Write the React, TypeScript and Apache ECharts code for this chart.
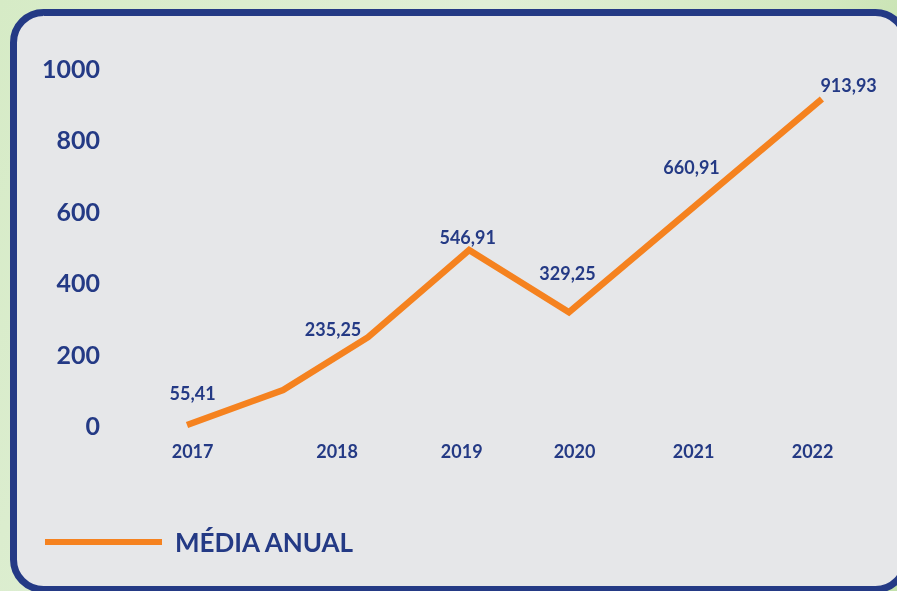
import React, { useEffect, useRef } from "react";
import * as echarts from "echarts";

// Year tick labels and their positions along the x axis (in year units, 2017 = 0)
const years = ["2017", "2018", "2019", "2020", "2021", "2022"];
const yearPos = [0, 1.165, 2.17, 3.08, 4.04, 5.0];

// Annotated yearly averages
const labelValues = [55.41, 235.25, 546.91, 329.25, 660.91, 913.93];
const labelOffsets = [
  [0, -12],
  [-4, -12],
  [6, 7],
  [-7, -34],
  [-2, -22],
  [36, -14],
];

// Line vertices as drawn in the picture
const lineX = [-0.045, 0.73, 1.415, 2.23, 3.035, 5.075];
const lineY = [0, 98, 246, 490, 316, 913];

const NAVY = "#243a85";
const ORANGE = "#f5821f";
const FONT = "Lato, 'Open Sans', sans-serif";

export default function App() {
  const ref = useRef<HTMLDivElement>(null);

  useEffect(() => {
    if (!ref.current) return;
    const chart = echarts.init(ref.current, null, { renderer: "svg" });
    const fmt = (v: number) => v.toFixed(2).replace(".", ",");
    chart.setOption({
      animation: false,
      graphic: [
        {
          type: "rect",
          z: -20,
          silent: true,
          shape: { x: 0, y: 0, width: 897, height: 591 },
          style: {
            fill: new echarts.graphic.LinearGradient(0, 0, 1, 0.3, [
              { offset: 0, color: "#d6ebc6" },
              { offset: 0.5, color: "#e0efd6" },
              { offset: 0.85, color: "#d2e8bf" },
              { offset: 1, color: "#c3e1ac" },
            ]),
          },
        },
        {
          type: "rect",
          z: -10,
          silent: true,
          shape: { x: 13.5, y: 12.5, width: 892, height: 577, r: 30 },
          style: { fill: "#e6e7e9", stroke: NAVY, lineWidth: 7 },
        },
      ],
      grid: { left: 112, right: 10, top: 68, bottom: 166, containLabel: false },
      legend: {
        data: ["MÉDIA ANUAL"],
        left: 45,
        top: 529,
        padding: 0,
        icon: "rect",
        itemWidth: 117,
        itemHeight: 6,
        textStyle: {
          color: NAVY,
          fontFamily: FONT,
          fontWeight: "bold",
          fontSize: 26,
          padding: [0, 0, 0, 8],
        },
      },
      xAxis: {
        type: "value",
        min: -0.65,
        max: 5.6,
        axisLine: { show: false },
        axisTick: { show: false },
        splitLine: { show: false },
        axisLabel: {
          customValues: yearPos,
          margin: 17,
          color: NAVY,
          fontFamily: FONT,
          fontWeight: "bold",
          fontSize: 18,
          formatter: (v: number) => {
            const i = yearPos.findIndex((p) => Math.abs(p - v) < 1e-6);
            return i >= 0 ? years[i] : "";
          },
        },
      },
      yAxis: {
        type: "value",
        min: 0,
        max: 1000,
        interval: 200,
        axisLine: { show: false },
        axisTick: { show: false },
        splitLine: { show: false },
        axisLabel: {
          margin: 12,
          color: NAVY,
          fontFamily: FONT,
          fontWeight: "bold",
          fontSize: 25,
          formatter: (v: number) => String(v),
        },
      },
      series: [
        {
          name: "MÉDIA ANUAL",
          type: "line",
          data: lineX.map((x, i) => [x, lineY[i]]),
          symbol: "none",
          showSymbol: false,
          clip: false,
          color: ORANGE,
          lineStyle: { color: ORANGE, width: 6.5, cap: "butt", join: "miter" },
          itemStyle: { color: ORANGE },
          z: 3,
        },
        {
          name: "labels",
          type: "scatter",
          symbolSize: 0,
          silent: true,
          itemStyle: { opacity: 1, color: NAVY },
          data: labelValues.map((v, i) => ({
            value: [yearPos[i], v],
            label: { offset: labelOffsets[i] },
          })),
          label: {
            show: true,
            position: "inside",
            color: NAVY,
            opacity: 1,
            textBorderWidth: 0,
            fontFamily: FONT,
            fontWeight: "bold",
            fontSize: 18,
            formatter: (p: any) => fmt(p.value[1]),
          },
          z: 4,
        },
      ],
    });
    return () => chart.dispose();
  }, []);

  return (
    <div
      ref={ref}
      style={{ position: "fixed", left: 0, top: 0, width: 897, height: 591 }}
    />
  );
}
